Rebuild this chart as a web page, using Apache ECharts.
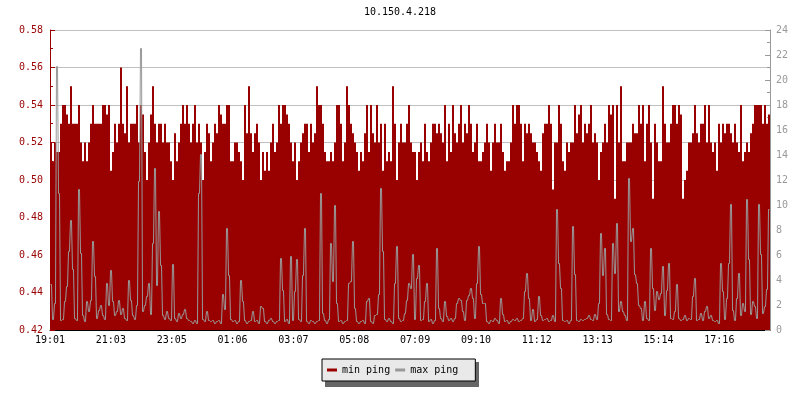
<!DOCTYPE html>
<html>
<head>
<meta charset="utf-8">
<script src="https://cdn.jsdelivr.net/npm/echarts@6/dist/echarts.min.js"></script>
<style>
html,body{margin:0;padding:0;background:#fff;}
#chart{width:800px;height:400px;}
</style>
</head>
<body>
<div id="chart"></div>
<script>
const chartTitle = '10.150.4.218';
const seriesNames = ['min ping', 'max ping'];
const tickLabels = ['19:01','21:03','23:05','01:06','03:07','05:08','07:09','09:10','11:12','13:13','15:14','17:16'];
const stepMinutes = 4;
const tickMinutes = 121.7;

const minPing = [
0.52,0.51,0.52,0.515,0.515,0.53,0.54,0.54,0.535,0.53,
0.55,0.53,0.53,0.53,0.54,0.52,0.51,0.52,0.51,0.52,
0.53,0.54,0.53,0.53,0.53,0.53,0.54,0.54,0.535,0.54,
0.505,0.515,0.53,0.52,0.53,0.56,0.53,0.525,0.55,0.52,
0.53,0.53,0.53,0.54,0.52,0.54,0.535,0.515,0.50,0.52,
0.535,0.55,0.53,0.52,0.53,0.53,0.52,0.53,0.52,0.52,
0.51,0.50,0.525,0.51,0.52,0.53,0.54,0.53,0.54,0.53,
0.52,0.53,0.54,0.52,0.53,0.52,0.50,0.515,0.53,0.525,
0.51,0.52,0.53,0.525,0.54,0.535,0.53,0.53,0.54,0.54,
0.51,0.51,0.52,0.52,0.515,0.51,0.50,0.54,0.525,0.55,
0.525,0.515,0.525,0.53,0.52,0.50,0.515,0.505,0.515,0.505,
0.52,0.53,0.515,0.52,0.54,0.53,0.54,0.54,0.535,0.53,
0.52,0.51,0.52,0.50,0.51,0.52,0.525,0.53,0.53,0.515,
0.53,0.52,0.525,0.55,0.54,0.54,0.53,0.515,0.51,0.51,
0.515,0.51,0.52,0.54,0.54,0.53,0.51,0.52,0.55,0.54,
0.53,0.525,0.52,0.515,0.505,0.515,0.51,0.525,0.54,0.515,
0.54,0.525,0.52,0.54,0.52,0.53,0.505,0.53,0.51,0.515,
0.51,0.55,0.53,0.50,0.52,0.53,0.52,0.52,0.53,0.54,
0.52,0.515,0.515,0.50,0.515,0.52,0.51,0.53,0.515,0.51,
0.52,0.53,0.53,0.525,0.53,0.525,0.52,0.54,0.51,0.53,
0.515,0.54,0.525,0.52,0.53,0.54,0.52,0.53,0.525,0.54,
0.53,0.515,0.52,0.53,0.51,0.51,0.515,0.52,0.53,0.52,
0.505,0.52,0.53,0.52,0.52,0.53,0.515,0.505,0.51,0.51,
0.52,0.54,0.53,0.54,0.54,0.53,0.51,0.53,0.525,0.53,
0.525,0.52,0.52,0.515,0.51,0.505,0.525,0.53,0.53,0.54,
0.53,0.495,0.52,0.52,0.54,0.53,0.51,0.505,0.52,0.515,
0.52,0.52,0.54,0.525,0.535,0.54,0.52,0.53,0.525,0.53,
0.54,0.52,0.525,0.52,0.50,0.515,0.52,0.53,0.52,0.54,
0.535,0.54,0.49,0.54,0.52,0.55,0.51,0.51,0.52,0.52,
0.52,0.53,0.525,0.525,0.54,0.53,0.54,0.51,0.53,0.54,
0.52,0.49,0.53,0.52,0.51,0.51,0.55,0.53,0.52,0.52,
0.53,0.54,0.54,0.53,0.54,0.535,0.49,0.50,0.505,0.52,
0.52,0.525,0.54,0.525,0.52,0.53,0.53,0.54,0.52,0.54,
0.52,0.515,0.52,0.505,0.53,0.52,0.53,0.525,0.53,0.53,
0.525,0.52,0.53,0.52,0.515,0.54,0.51,0.515,0.52,0.515,
0.525,0.53,0.54,0.54,0.54,0.54,0.53,0.54,0.53,0.535
];

const maxPing = [
3.7,0.9,2.2,21.1,11,0.8,0.9,2.3,3.5,6.3,
8.8,4.9,1.0,0.8,11.3,6.2,1.2,0.7,2.3,1.5,
2.4,7.1,4.3,1.0,1.6,2.0,1.2,0.9,3.8,2.0,
4.8,2.3,1.2,1.5,2.4,1.3,1.8,1.0,0.8,4.0,
2.4,1.2,0.9,2.0,11.9,22.6,1.5,2.0,2.7,3.8,
1.3,7.0,13.0,3.6,9.5,5.2,1.2,0.9,1.5,1.0,
0.8,5.3,1.0,0.7,1.4,1.0,1.3,1.7,1.0,0.8,
0.7,0.6,0.8,0.6,11,14.1,0.9,0.7,1.5,0.8,
0.7,0.8,0.6,0.7,0.8,0.6,2.9,1.7,8.2,4.4,
0.9,0.7,0.8,0.6,0.7,4.0,2.3,0.8,0.6,0.7,
0.8,1.5,0.7,0.8,0.6,1.9,1.8,0.7,0.6,0.8,
1.0,0.7,0.6,0.7,0.8,5.8,3.2,0.7,0.9,0.6,
5.9,0.8,3.1,5.7,0.9,0.7,4.4,8.2,0.7,0.6,
0.8,0.7,0.6,0.7,0.8,11,1.4,0.8,0.6,0.9,
7.0,3.9,10,2.2,0.7,0.8,0.6,0.7,0.8,3.8,
3.9,7.1,1.8,0.7,0.6,0.7,0.8,0.6,2.3,2.6,
0.7,0.6,1.2,1.3,2.9,11.4,6.3,0.9,0.7,1.0,
0.7,0.6,3.8,6.7,1.0,0.7,0.8,1.4,2.4,3.8,
3.4,6.1,0.9,4.2,5.2,0.8,0.9,2.3,3.8,0.7,
0.9,0.6,0.8,6.6,1.8,1.0,0.7,2.3,1.1,0.8,
1.0,0.7,1.0,2.2,2.6,2.4,1.5,0.8,2.4,2.8,
3.4,2.6,1.0,3.8,6.7,2.9,2.2,2.2,0.7,0.6,
0.8,0.7,1.0,0.8,0.6,2.6,1.3,0.7,0.8,0.6,
0.7,0.9,0.8,1.0,0.7,0.8,1.0,3.1,4.6,2.6,
0.8,1.7,0.7,0.9,2.7,1.2,0.8,0.9,1.0,0.7,
0.8,1.2,0.7,9.7,5.4,3.4,0.8,0.7,0.8,0.6,
0.8,8.3,4.5,0.8,0.7,0.9,0.8,0.9,1.0,1.2,
0.9,0.8,1.3,0.9,2.2,7.8,4.4,6.6,1.3,0.9,
0.8,7.0,4.6,8.6,1.5,2.3,1.5,1.2,0.8,12.2,
7.1,8.2,4.5,3.8,2.0,1.8,0.8,2.3,1.0,0.8,
6.6,3.4,1.6,3.1,2.5,3.0,5.1,1.2,3.2,5.4,
1.0,0.9,1.5,3.7,1.0,0.8,0.9,1.2,0.8,1.0,
0.9,2.7,4.2,0.8,0.9,1.4,0.8,1.5,1.9,1.0,
1.2,0.8,0.7,0.8,0.6,5.4,3.1,0.9,2.6,5.4,
10.1,1.6,0.8,2.6,4.6,1.2,2.2,1.5,10.5,5.7,
1.3,2.3,1.9,1.0,10.1,6.1,1.4,1.9,3.3,9.7
];

const FONT = "'DejaVu Sans Mono', monospace";
const RED = '#990000';
const GREY = '#999999';
const totalMinutes = minPing.length * stepMinutes;
const leftMin = 0.42, leftMax = 0.58;

// min ping: one filled column per sample, from the axis floor up to the value
const minData = minPing.map((v, i) => [i * stepMinutes, v]);
// max ping: each item carries the previous value so the transition can be drawn
const maxData = maxPing.map((v, i) => [i * stepMinutes, v, i > 0 ? maxPing[i - 1] : NaN]);

function renderMinColumn(params, api) {
  const x = api.value(0), v = api.value(1);
  const top = api.coord([x, v]);
  const bot = api.coord([x + stepMinutes, leftMin]);
  return {
    type: 'rect',
    shape: {x: top[0], y: top[1], width: bot[0] - top[0], height: bot[1] - top[1]},
    style: {fill: RED}
  };
}

function renderMaxLine(params, api) {
  const x = api.value(0), v = api.value(1), pv = api.value(2);
  const p = api.coord([x, v]);
  const q = api.coord([x + stepMinutes, v]);
  const L = Math.round(p[0]), R = Math.round(q[0]);
  const y = Math.round(p[1]) + 0.5;
  const pts = [];
  if (!isNaN(pv)) {
    const py = Math.round(api.coord([x, pv])[1]) + 0.5;
    pts.push([L - 0.5, py]);
  }
  pts.push([L + 0.5, y]);
  pts.push([R - 0.5, y]);
  return {
    type: 'polyline',
    shape: {points: pts},
    style: {stroke: GREY, lineWidth: 1, fill: null}
  };
}

const chart = echarts.init(document.getElementById('chart'), null, {renderer: 'canvas'});
chart.setOption({
  animation: false,
  backgroundColor: '#ffffff',
  title: {
    text: chartTitle,
    left: 'center',
    top: 7,
    padding: 0,
    textStyle: {fontFamily: FONT, fontSize: 10, fontWeight: 'normal', color: '#000'}
  },
  graphic: [{
    type: 'rect',
    z: 0,
    shape: {x: 325, y: 362, width: 154, height: 25},
    style: {fill: '#666666'}
  }],
  legend: {
    data: seriesNames,
    left: 322,
    top: 359,
    orient: 'horizontal',
    icon: 'rect',
    itemWidth: 10,
    itemHeight: 3,
    itemGap: 5,
    padding: [6, 17, 6, 5],
    backgroundColor: '#e9e9e9',
    borderColor: '#000',
    borderWidth: 1,
    borderRadius: 0,
    z: 5,
    textStyle: {fontFamily: FONT, fontSize: 10, color: '#000'}
  },
  grid: {left: 50, right: 30, top: 30, bottom: 70, containLabel: false},
  xAxis: {
    type: 'value',
    min: 0,
    max: totalMinutes,
    interval: tickMinutes,
    axisLine: {show: true, lineStyle: {color: '#000', width: 1}},
    axisTick: {show: true, inside: true, length: 5, lineStyle: {color: '#000'}},
    splitLine: {show: false},
    axisLabel: {
      show: true,
      showMaxLabel: false,
      margin: 5,
      color: '#000',
      fontFamily: FONT,
      fontSize: 10,
      formatter: function (v) {
        const k = Math.round(v / tickMinutes);
        return tickLabels[k] || '';
      }
    }
  },
  yAxis: [{
    type: 'value',
    position: 'left',
    min: leftMin,
    max: leftMax,
    interval: 0.02,
    axisLine: {show: true, lineStyle: {color: RED}},
    axisTick: {show: true, inside: true, length: 5, lineStyle: {color: RED}},
    minorTick: {show: true, splitNumber: 2, length: 3, lineStyle: {color: RED}},
    splitLine: {show: true, lineStyle: {color: '#c0c0c0', width: 1}},
    axisLabel: {
      margin: 7, color: RED, fontFamily: FONT, fontSize: 10,
      formatter: function (v) { return v.toFixed(2); }
    }
  }, {
    type: 'value',
    position: 'right',
    min: 0,
    max: 24,
    interval: 2,
    axisLine: {show: true, lineStyle: {color: GREY}},
    axisTick: {show: true, inside: true, length: 5, lineStyle: {color: GREY}},
    minorTick: {show: true, splitNumber: 2, length: 3, lineStyle: {color: GREY}},
    splitLine: {show: false},
    axisLabel: {margin: 6, color: GREY, fontFamily: FONT, fontSize: 10}
  }],
  series: [{
    name: seriesNames[0],
    type: 'custom',
    yAxisIndex: 0,
    itemStyle: {color: RED},
    encode: {x: 0, y: 1},
    renderItem: renderMinColumn,
    data: minData,
    z: 2
  }, {
    name: seriesNames[1],
    type: 'custom',
    yAxisIndex: 1,
    itemStyle: {color: GREY},
    encode: {x: 0, y: 1},
    renderItem: renderMaxLine,
    data: maxData,
    z: 3
  }]
});
</script>
</body>
</html>
